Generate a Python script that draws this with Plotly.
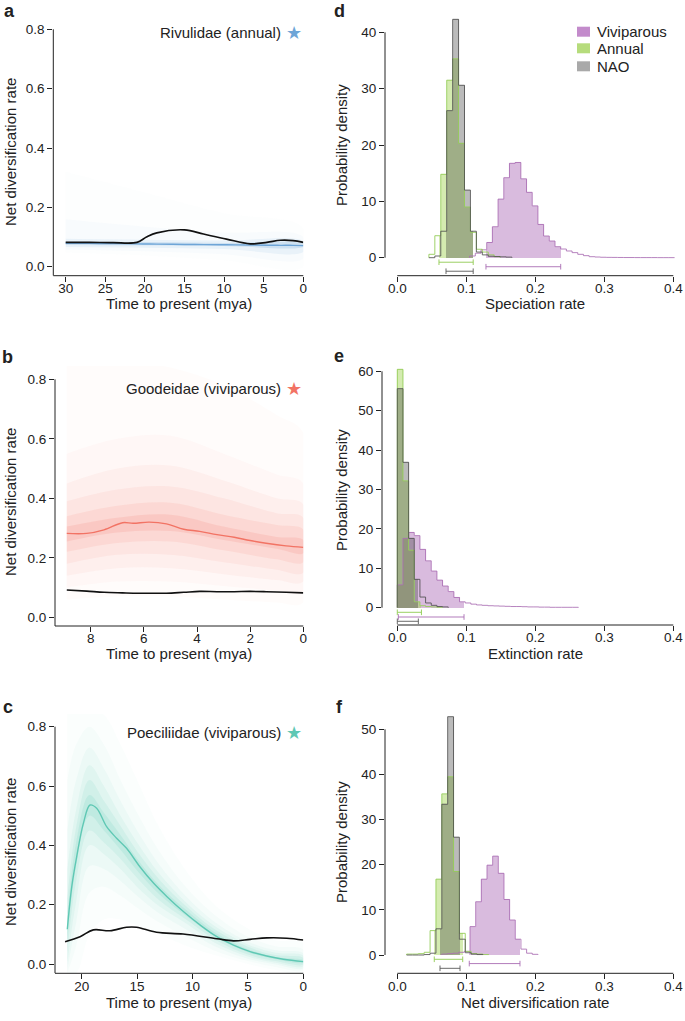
import plotly.graph_objects as go

# ---------------- data: rate-through-time curves (left column) ----------------
# a  Rivulidae (annual)
A_T = [30, 27, 24, 21, 19.8, 18.5, 15, 12.6, 9.7, 6.7, 4.6, 2.9, 1.3, 0]
A_RATE = [0.079, 0.0785, 0.078, 0.077, 0.0765, 0.076, 0.075, 0.0745, 0.074,
          0.073, 0.0725, 0.072, 0.072, 0.071]
A_BG = [0.082, 0.082, 0.081, 0.082, 0.100, 0.114, 0.124, 0.110, 0.093,
        0.077, 0.082, 0.089, 0.088, 0.082]
A_TB = [30, 20, 10, 0]
A_LO_50 = [0.073, 0.072, 0.070, 0.067]
A_HI_50 = [0.085, 0.083, 0.080, 0.077]
A_LO_80 = [0.066, 0.064, 0.060, 0.050]
A_HI_80 = [0.094, 0.091, 0.088, 0.086]
A_LO_95 = [0.058, 0.052, 0.042, 0.028]
A_HI_95 = [0.16, 0.135, 0.115, 0.10]
A_LO_99 = [0.048, 0.038, 0.022, 0.0]
A_HI_99 = [0.32, 0.25, 0.18, 0.13]

# b  Goodeidae (viviparous)
B_T = [8.9, 8.15, 7.5, 6.8, 6.4, 5.8, 5.15, 4.5, 3.9, 3.25, 2.6, 2.0, 1.4, 0.65, 0]
B_RATE = [0.282, 0.282, 0.294, 0.318, 0.316, 0.320, 0.314, 0.296, 0.289,
          0.278, 0.269, 0.258, 0.249, 0.240, 0.235]
B_BG = [0.092, 0.088, 0.084, 0.082, 0.081, 0.081, 0.081, 0.084, 0.087,
        0.086, 0.086, 0.087, 0.086, 0.084, 0.082]
B_TB = [8.9, 7, 5, 3, 1, 0]
B_LO_30 = [0.255, 0.285, 0.29, 0.26, 0.23, 0.215]
B_HI_30 = [0.305, 0.335, 0.345, 0.305, 0.27, 0.26]
B_LO_50 = [0.22, 0.25, 0.255, 0.225, 0.195, 0.185]
B_HI_50 = [0.34, 0.375, 0.385, 0.345, 0.31, 0.295]
B_LO_70 = [0.18, 0.21, 0.21, 0.185, 0.16, 0.15]
B_HI_70 = [0.39, 0.43, 0.44, 0.40, 0.35, 0.335]
B_LO_85 = [0.14, 0.165, 0.165, 0.145, 0.125, 0.12]
B_HI_85 = [0.45, 0.50, 0.51, 0.46, 0.40, 0.38]
B_LO_95 = [0.10, 0.12, 0.12, 0.105, 0.09, 0.085]
B_HI_95 = [0.55, 0.60, 0.61, 0.55, 0.48, 0.45]
B_LO_99 = [0.06, 0.07, 0.07, 0.06, 0.05, 0.05]
B_HI_99 = [0.86, 0.86, 0.84, 0.78, 0.68, 0.62]

# c  Poeciliidae (viviparous)
C_T = [21.3, 20.9, 20.45, 19.85, 19.25, 18.65, 17.75, 16.85, 15.95, 14.75,
       13.5, 12.3, 10.8, 9.3, 7.8, 6.3, 4.8, 3.3, 1.8, 0]
C_RATE = [0.117, 0.26, 0.362, 0.474, 0.536, 0.525, 0.463, 0.424, 0.39, 0.328,
          0.272, 0.227, 0.176, 0.131, 0.092, 0.064, 0.042, 0.027, 0.016, 0.008]
C_TBG = [21.5, 20.15, 18.95, 17.45, 15.95, 15.05, 13.25, 10.85, 7.8, 6.3, 4.8, 3.3, 1.5, 0]
C_BG = [0.075, 0.092, 0.115, 0.112, 0.124, 0.124, 0.107, 0.101, 0.085,
        0.078, 0.083, 0.088, 0.087, 0.081]
C_TB = [21.3, 20.5, 19.3, 18.0, 16.5, 15.0, 13.0, 10.5, 8.0, 5.0, 2.5, 0]
C_LO_30 = [0.08, 0.33, 0.50, 0.45, 0.385, 0.315, 0.235, 0.16, 0.093, 0.04, 0.016, 0.004]
C_HI_30 = [0.16, 0.41, 0.57, 0.51, 0.435, 0.355, 0.265, 0.18, 0.107, 0.05, 0.024, 0.013]
C_LO_50 = [0.04, 0.28, 0.45, 0.41, 0.355, 0.29, 0.215, 0.148, 0.083, 0.032, 0.01, -0.002]
C_HI_50 = [0.22, 0.46, 0.62, 0.55, 0.465, 0.38, 0.285, 0.192, 0.117, 0.058, 0.03, 0.02]
C_LO_70 = [0.0, 0.21, 0.40, 0.37, 0.32, 0.26, 0.195, 0.135, 0.072, 0.025, 0.004, -0.008]
C_HI_70 = [0.32, 0.52, 0.67, 0.60, 0.50, 0.41, 0.305, 0.205, 0.128, 0.066, 0.038, 0.028]
C_LO_85 = [-0.02, 0.14, 0.33, 0.32, 0.28, 0.23, 0.17, 0.115, 0.06, 0.018, -0.002, -0.014]
C_HI_85 = [0.45, 0.62, 0.73, 0.66, 0.55, 0.45, 0.335, 0.225, 0.142, 0.076, 0.046, 0.036]
C_LO_95 = [-0.03, 0.06, 0.24, 0.26, 0.23, 0.19, 0.14, 0.09, 0.045, 0.01, -0.01, -0.02]
C_HI_95 = [0.62, 0.74, 0.80, 0.74, 0.62, 0.51, 0.38, 0.255, 0.165, 0.092, 0.06, 0.048]
C_LO_99 = [-0.03, -0.03, 0.10, 0.15, 0.15, 0.13, 0.10, 0.06, 0.03, 0.0, -0.02, -0.03]
C_HI_99 = [0.86, 0.86, 0.86, 0.84, 0.74, 0.62, 0.46, 0.31, 0.20, 0.12, 0.08, 0.07]

# ---------------- data: posterior histograms (right column) ----------------
# d  speciation
D_VIV_START, D_VIV_WIDTH = 0.1048, 0.00825
D_VIV = [0.3, 0.8, 1.4, 2.7, 5.5, 10.4, 14.2, 16.75, 16.9, 14.0, 11.6, 9.2, 5.9,
         3.85, 2.96, 1.96, 1.54, 1.19, 0.9, 0.6, 0.36, 0.18, 0.12, 0.08, 0.06,
         0.05, 0.04, 0.03, 0.03, 0.02, 0.02, 0.02, 0.02, 0.01, 0.01, 0.01]
D_VIV_CI = [0.1285, 0.2368]
D_ANN_START, D_ANN_WIDTH = 0.0458, 0.0086
D_ANN = [0.6, 3.9, 14.8, 31.5, 35.3, 20.3, 9.0, 4.5, 1.5, 1.0, 0.5, 0.2]
D_ANN_CI = [0.0604, 0.110]
D_NAO_START, D_NAO_WIDTH = 0.0458, 0.0086
D_NAO = [0.0, 0.3, 4.7, 26.1, 42.3, 30.6, 12.0, 4.7, 1.0, 0.5, 0.25, 0.2, 0.15, 0.1]
D_NAO_CI = [0.0706, 0.110]

# e  extinction
E_VIV_START, E_VIV_WIDTH = 0.0, 0.0082
E_VIV = [5.8, 17.6, 19.1, 18.3, 14.8, 11.9, 9.3, 7.0, 5.5, 4.1, 2.6, 1.5, 1.2,
         0.9, 0.7, 0.6, 0.5, 0.45, 0.4, 0.35, 0.3, 0.3, 0.25, 0.2, 0.2, 0.15,
         0.15, 0.1, 0.1, 0.1, 0.1, 0.1]
E_VIV_CI = [0.0015, 0.0967]
E_ANN_START, E_ANN_WIDTH = 0.0, 0.0082
E_ANN = [60.5, 32.2, 14.6, 1.5, 0.5, 0.3, 0.2, 0.1]
E_ANN_CI = [0.0, 0.035]
E_NAO_START, E_NAO_WIDTH = 0.0, 0.0082
E_NAO = [55.6, 36.9, 17.6, 7.2, 2.7, 1.2, 0.6, 0.3, 0.2]
E_NAO_CI = [0.0, 0.0305]

# f  net diversification
F_VIV_START, F_VIV_WIDTH = 0.0644, 0.0082
F_VIV = [0.2, 0.3, 0.4, 0.6, 0.8, 6.3, 11.8, 16.8, 19.9, 21.9, 18.1, 12.3,
         7.75, 3.5, 1.3, 0.4, 0.15]
F_VIV_CI = [0.1043, 0.1778]
F_ANN_START, F_ANN_WIDTH = 0.0135, 0.0085
F_ANN = [0.2, 0.2, 0.3, 0.6, 5.4, 16.8, 35.7, 39.5, 18.5, 4.8, 0.8, 0.3, 0.2, 0.1]
F_ANN_CI = [0.0536, 0.0948]
F_NAO_START, F_NAO_WIDTH = 0.0135, 0.0085
F_NAO = [0.0, 0.0, 0.0, 0.1, 0.4, 5.8, 33.4, 52.8, 26.1, 3.5, 0.5, 0.2, 0.1]
F_NAO_CI = [0.0619, 0.0909]

GROUPS = ["Viviparous", "Annual", "NAO"]

# ---------------- styling ----------------
W, H = 685, 1021
FONT = "Liberation Sans, Arial, Helvetica, sans-serif"
INK = "#222222"
BLUE, SALMON, TEAL = "110,165,215", "242,115,100", "95,200,180"
VIV, ANN, NAO = "180,120,190", "160,210,80", "60,60,60"
SOFT = [0.025, 0.035, 0.055, 0.08, 0.11, 0.15]


def px_x(p):
    return p / W


def px_y(p):
    return 1 - p / H


def span(p0, v0, p1, v1, a, b):
    k = (v1 - v0) / (p1 - p0)
    return [v0 + (a - p0) * k, v0 + (b - p0) * k]


fig = go.Figure()
axes = {}
shapes = []
annotations = []


def ref(n):
    return ("x", "y") if n == 1 else (f"x{n}", f"y{n}")


def setup_panel(n, xbox, xcal, ybox, ycal, xticks, yticks, xfmt, yfmt, xline, ytop):
    """xbox/ybox are pixel edges, xcal/ycal two (pixel, value) pairs."""
    xr, yr = ref(n)
    xrange = span(xcal[0], xcal[1], xcal[2], xcal[3], xbox[0], xbox[1])
    yrange = span(ycal[0], ycal[1], ycal[2], ycal[3], ybox[0], ybox[1])
    common = dict(showline=False, showgrid=False, zeroline=False, ticks="outside",
                  ticklen=5, tickwidth=1, tickcolor=INK, automargin=False,
                  tickfont=dict(family=FONT, size=13.5, color=INK))
    axes["xaxis" if n == 1 else f"xaxis{n}"] = dict(
        common, domain=[px_x(xbox[0]), px_x(xbox[1])], range=xrange,
        anchor=yr, tickvals=xticks, tickformat=xfmt, ticklabelstandoff=-5)
    axes["yaxis" if n == 1 else f"yaxis{n}"] = dict(
        common, domain=[px_y(ybox[0]), px_y(ybox[1])], range=yrange,
        anchor=xr, tickvals=yticks, tickformat=yfmt)
    line = dict(color=INK, width=1)
    if xline is None:
        shapes.append(dict(type="line", xref=f"{xr} domain", x0=0, x1=1,
                           yref=f"{yr} domain", y0=0, y1=0, line=line))
        shapes.append(dict(type="line", xref=f"{xr} domain", x0=0, x1=0,
                           yref=yr, y0=yrange[0], y1=ytop, line=line))
    else:
        shapes.append(dict(type="line", xref=xr, x0=xline[0], x1=xline[1],
                           yref=f"{yr} domain", y0=0, y1=0, line=line))
        shapes.append(dict(type="line", xref=f"{xr} domain", x0=0, x1=0,
                           yref=yr, y0=0, y1=ytop, line=line))


def add_rates(n, t, rate, t_bg, bg, t_band, bands, rgb, alphas):
    xr, yr = ref(n)
    # nested envelopes, outermost first, build up the density shading
    for (lo, hi), alpha in zip(bands, alphas):
        fig.add_trace(go.Scatter(
            x=t_band + t_band[::-1], y=hi + lo[::-1], mode="lines", fill="toself",
            fillcolor=f"rgba({rgb},{alpha})", line=dict(width=0, shape="spline"),
            hoverinfo="skip", showlegend=False, xaxis=xr, yaxis=yr))
    fig.add_trace(go.Scatter(
        x=t, y=rate, mode="lines", line=dict(color=f"rgb({rgb})", width=1.4, shape="spline"),
        showlegend=False, xaxis=xr, yaxis=yr))
    fig.add_trace(go.Scatter(
        x=t_bg, y=bg, mode="lines", line=dict(color="#111111", width=1.6, shape="spline"),
        showlegend=False, xaxis=xr, yaxis=yr))


def add_hist_fill(n, start, width, dens, ci, rgb, alpha):
    xr, yr = ref(n)
    edges = [start + i * width for i in range(len(dens) + 1)]
    xs, ws, hs = [], [], []
    for i, d in enumerate(dens):
        lo, hi = max(edges[i], ci[0]), min(edges[i + 1], ci[1])
        if hi > lo:
            xs.append((lo + hi) / 2)
            ws.append(hi - lo)
            hs.append(d)
    fig.add_trace(go.Bar(
        x=xs, y=hs, width=ws, marker=dict(color=f"rgba({rgb},{alpha})", line=dict(width=0)),
        showlegend=False, xaxis=xr, yaxis=yr))


def add_hist_outline(n, start, width, dens, color):
    xr, yr = ref(n)
    edges = [start + i * width for i in range(len(dens) + 1)]
    fig.add_trace(go.Scatter(
        x=[edges[0]] + edges, y=[0] + dens + [0], mode="lines",
        line=dict(color=color, width=1, shape="hv"),
        showlegend=False, xaxis=xr, yaxis=yr))


def add_ci(n, ci, level, color):
    xr, yr = ref(n)
    fig.add_trace(go.Scatter(
        x=ci, y=[level, level], mode="lines+markers",
        line=dict(color=color, width=1),
        marker=dict(symbol="line-ns-open", size=4, line=dict(color=color, width=1)),
        showlegend=False, xaxis=xr, yaxis=yr))


# ---------------- left column ----------------
setup_panel(1, (53.3, 303.3), (65.7, 30, 303.3, 0), (275.7, 16), (266.7, 0, 29.3, 0.8),
            [30, 25, 20, 15, 10, 5, 0], [0, 0.2, 0.4, 0.6, 0.8], "d", ".1f", None, 0.8)
setup_panel(2, (55, 303.3), (90.7, 8, 303.3, 0), (626, 366), (617.3, 0, 379.3, 0.8),
            [8, 6, 4, 2, 0], [0, 0.2, 0.4, 0.6, 0.8], "d", ".1f", None, 0.8)
setup_panel(3, (55, 303.3), (81.7, 20, 303.3, 0), (973.3, 714), (964, 0, 726.7, 0.8),
            [20, 15, 10, 5, 0], [0, 0.2, 0.4, 0.6, 0.8], "d", ".1f", None, 0.8)

add_rates(1, A_T, A_RATE, A_T, A_BG, A_TB,
          [(A_LO_99, A_HI_99), (A_LO_95, A_HI_95), (A_LO_80, A_HI_80), (A_LO_50, A_HI_50)],
          BLUE, [0.015, 0.03, 0.10, 0.22])
add_rates(2, B_T, B_RATE, B_T, B_BG, B_TB,
          [(B_LO_99, B_HI_99), (B_LO_95, B_HI_95), (B_LO_85, B_HI_85),
           (B_LO_70, B_HI_70), (B_LO_50, B_HI_50), (B_LO_30, B_HI_30)],
          SALMON, SOFT)
add_rates(3, C_T, C_RATE, C_TBG, C_BG, C_TB,
          [(C_LO_99, C_HI_99), (C_LO_95, C_HI_95), (C_LO_85, C_HI_85),
           (C_LO_70, C_HI_70), (C_LO_50, C_HI_50), (C_LO_30, C_HI_30)],
          TEAL, SOFT)

# ---------------- right column ----------------
XCAL = (397.3, 0.0, 673.3, 0.4)
XT = [0, 0.1, 0.2, 0.3, 0.4]
setup_panel(4, (385, 680), XCAL, (275.7, 10), (257.7, 0, 32.3, 40),
            XT, [0, 10, 20, 30, 40], ".1f", "d", (0, 0.4), 40)
setup_panel(5, (382, 680), XCAL, (625, 362), (607.7, 0, 371.3, 60),
            XT, [0, 10, 20, 30, 40, 50, 60], ".1f", "d", (0, 0.4), 60)
setup_panel(6, (385, 680), XCAL, (973.3, 712), (955, 0, 729.3, 50),
            XT, [0, 10, 20, 30, 40, 50], ".1f", "d", (0, 0.4), 50)

HISTS = [
    (4, [(D_VIV_START, D_VIV_WIDTH, D_VIV, D_VIV_CI), (D_ANN_START, D_ANN_WIDTH, D_ANN, D_ANN_CI),
         (D_NAO_START, D_NAO_WIDTH, D_NAO, D_NAO_CI)], [-1.6, -0.8, -2.4]),
    (5, [(E_VIV_START, E_VIV_WIDTH, E_VIV, E_VIV_CI), (E_ANN_START, E_ANN_WIDTH, E_ANN, E_ANN_CI),
         (E_NAO_START, E_NAO_WIDTH, E_NAO, E_NAO_CI)], [-2.36, -1.17, -3.45]),
    (6, [(F_VIV_START, F_VIV_WIDTH, F_VIV, F_VIV_CI), (F_ANN_START, F_ANN_WIDTH, F_ANN, F_ANN_CI),
         (F_NAO_START, F_NAO_WIDTH, F_NAO, F_NAO_CI)], [-1.9, -0.95, -2.95]),
]
FILL = [(VIV, 0.5), (ANN, 0.45), (NAO, 0.35)]
OUTLINE = ["rgba(170,110,180,0.85)", "rgba(150,205,90,0.9)", "rgba(80,80,80,0.85)"]
CI_COL = ["rgba(170,110,180,0.9)", "rgba(150,205,90,0.95)", "rgba(90,90,90,0.9)"]

for n, series, levels in HISTS:
    for (start, width, dens, ci), (rgb, a) in zip(series, FILL):
        add_hist_fill(n, start, width, dens, ci, rgb, a)
    for (start, width, dens, ci), col in zip(series, OUTLINE):
        add_hist_outline(n, start, width, dens, col)
    for (start, width, dens, ci), lvl, col in zip(series, levels, CI_COL):
        add_ci(n, ci, lvl, col)


# ---------------- text ----------------
def text(x, y, s, size=15, xanchor="center", **kw):
    annotations.append(dict(xref="paper", yref="paper", x=px_x(x), y=px_y(y), text=s,
                            xanchor=xanchor, yanchor="middle", showarrow=False,
                            font=dict(family=FONT, size=size, color=INK), **kw))


for letter, x, y in [("a", 9, 11), ("b", 8, 357), ("c", 8, 707),
                     ("d", 339, 11), ("e", 339, 356), ("f", 339, 707)]:
    text(x, y, f"<b>{letter}</b>", size=18)

for y in [152, 502, 852]:
    text(10, y, "Net diversification rate", textangle=-90)
for y in [145, 490, 842]:
    text(341, y, "Probability density", textangle=-90)
for y in [303, 653, 1002]:
    text(179, y, "Time to present (mya)")
for y, s in [(303, "Speciation rate"), (653, "Extinction rate"), (1002, "Net diversification rate")]:
    text(535, y, s)

for y, s, rgb in [(32, "Rivulidae (annual)", BLUE), (388, "Goodeidae (viviparous)", SALMON),
                  (732, "Poeciliidae (viviparous)", TEAL)]:
    text(283, y, s, xanchor="right")
    annotations.append(dict(xref="paper", yref="paper", x=px_x(293.5), y=px_y(y), text="★",
                            xanchor="center", yanchor="middle", showarrow=False,
                            font=dict(family="DejaVu Sans", size=18, color=f"rgb({rgb})")))

# legend of panel d
for y, s, col in zip([31.7, 48.3, 66.3], GROUPS, ["#C38BCB", "#B6DC7C", "#A9A9A9"]):
    shapes.append(dict(type="rect", xref="paper", yref="paper", x0=px_x(577), x1=px_x(590),
                       y0=px_y(y + 5), y1=px_y(y - 5), fillcolor=col, line=dict(width=0)))
    text(595, y, s, xanchor="left")

fig.update_layout(
    width=W, height=H,
    margin=dict(l=0, r=0, t=0, b=0),
    paper_bgcolor="white", plot_bgcolor="white",
    barmode="overlay", bargap=0,
    showlegend=False,
    shapes=shapes, annotations=annotations,
    **axes,
)

fig.write_html("out.html", config={"displayModeBar": False},
               post_script="document.body.style.margin='0px';"
                           "document.body.style.overflow='hidden';")
